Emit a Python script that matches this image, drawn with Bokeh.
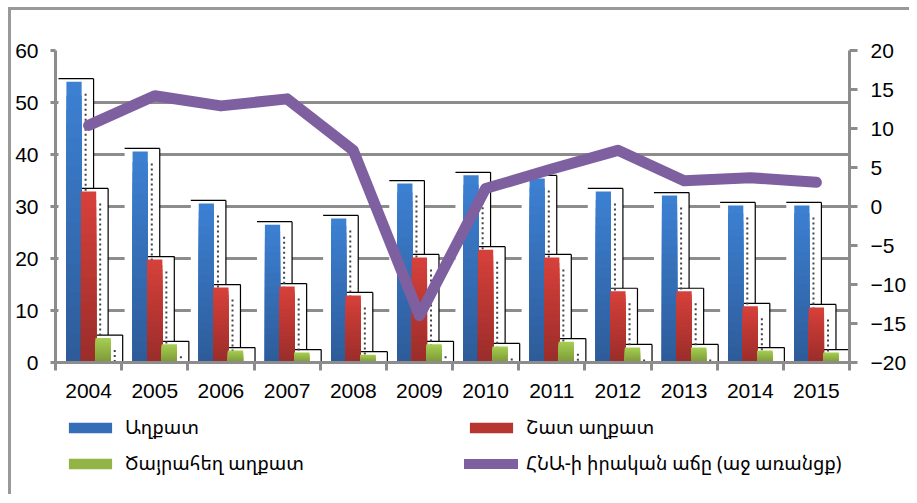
from bokeh.plotting import figure
from bokeh.layouts import column
from bokeh.models import (Range1d, LinearAxis, FixedTicker, Legend, LegendItem,
                          ColumnDataSource)
from bokeh.embed import file_html
from bokeh.resources import INLINE

# ---------------- data ----------------
years = ["2004", "2005", "2006", "2007", "2008", "2009",
         "2010", "2011", "2012", "2013", "2014", "2015"]
poor = [54.0, 40.6, 30.6, 26.5, 27.7, 34.4, 36.0, 35.4, 32.9, 32.1, 30.2, 30.2]
very_poor = [32.9, 19.8, 14.4, 14.6, 12.9, 20.2, 21.7, 20.2, 13.7, 13.7, 10.8, 10.6]
extreme_poor = [4.7, 3.5, 2.3, 1.9, 1.5, 3.5, 3.1, 4.0, 2.9, 2.9, 2.3, 1.9]
gdp_growth = [10.4, 14.2, 12.9, 13.8, 7.2, -14.0, 2.3, 4.8, 7.2, 3.3, 3.7, 3.1]
left_ticks = [0, 10, 20, 30, 40, 50, 60]
right_ticks = [-20, -15, -10, -5, 0, 5, 10, 15, 20]
labels = ["Աղքատ", "Շատ աղքատ", "Ծայրահեղ աղքատ", "ՀՆԱ-ի իրական աճը (աջ առանցք)"]

# ---------------- layout ----------------
W = 898
H1, H2 = 400, 84
FL, FR, FT, FB = 44, 842, 40, 352          # frame edges in canvas px
PX_X = (FR - FL) / 12.0                    # px per category unit
PX_Y = (FB - FT) / 60.0                    # px per left-axis unit

GRAY = "#8c8c8c"
FONT = "Liberation Sans"
LEGEND_FONT = "Noto Sans Armenian, DejaVu Sans"
BLUE = ((60, 128, 210), (46, 92, 154))
RED = ((214, 64, 58), (155, 45, 42))
GREEN = ((166, 205, 82), (124, 154, 55))
PURPLE = "#7e60a0"

p = figure(width=W, height=H1, output_backend="svg", toolbar_location=None,
           x_range=Range1d(0, 12), y_range=Range1d(0, 60),
           min_border_left=FL, min_border_right=W - FR,
           min_border_top=FT, min_border_bottom=H1 - FB,
           background_fill_color="white", border_fill_color="white")
p.outline_line_color = None
p.extra_y_ranges = {"gdp": Range1d(-20, 20)}

centers = [i + 0.5 for i in range(len(years))]

# x axis: ticks at category boundaries, labels at centres
xa = p.xaxis[0]
xa.ticker = FixedTicker(ticks=centers, minor_ticks=list(range(13)))
xa.major_label_overrides = {c: y for c, y in zip(centers, years)}
xa.major_tick_out = 0
xa.major_tick_in = 0
xa.minor_tick_out = 8
xa.minor_tick_in = 0
xa.minor_tick_line_color = GRAY
xa.minor_tick_line_width = 3
xa.axis_line_color = GRAY
xa.axis_line_width = 3
xa.major_label_standoff = 13
xa.major_label_text_font = FONT
xa.major_label_text_font_size = "21px"
xa.major_label_text_color = "black"

ya = p.yaxis[0]
ya.ticker = FixedTicker(ticks=left_ticks, minor_ticks=[])
ya.major_tick_out = 5
ya.major_tick_in = 0
ya.major_tick_line_color = GRAY
ya.major_tick_line_width = 3
ya.axis_line_color = GRAY
ya.axis_line_width = 3
ya.major_label_standoff = 12
ya.major_label_text_font = FONT
ya.major_label_text_font_size = "21px"
ya.major_label_text_color = "black"

ra = LinearAxis(y_range_name="gdp", ticker=FixedTicker(ticks=right_ticks, minor_ticks=[]))
ra.major_tick_out = 8
ra.major_tick_in = 0
ra.major_tick_line_color = GRAY
ra.major_tick_line_width = 3
ra.axis_line_color = GRAY
ra.axis_line_width = 3
ra.major_label_standoff = 13
ra.major_label_text_font = FONT
ra.major_label_text_font_size = "21px"
ra.major_label_text_color = "black"
p.add_layout(ra, "right")

p.xgrid.visible = False
p.ygrid.ticker = FixedTicker(ticks=left_ticks, minor_ticks=[])
p.ygrid.grid_line_color = GRAY
p.ygrid.grid_line_width = 3

# ---------------- bars ----------------
BAR_W = 15.3 / PX_X
series = [
    (poor, -0.22, BLUE),
    (very_poor, 0.0, RED),
    (extreme_poor, 0.22, GREEN),
]

box_l = BAR_W / 2 + 8 / PX_X
box_r = BAR_W / 2 + 12 / PX_X
box_top = 3 / PX_Y

# white "shadow" boxes with black top/right edges (drawn below bars)
for vals, off, _ in series:
    xs = [c + off for c in centers]
    p.quad(left=[x - box_l for x in xs], right=[x + box_r for x in xs],
           top=[v + box_top for v in vals], bottom=0,
           fill_color="white", line_color=None)
    p.segment(x0=[x - box_l for x in xs], x1=[x + box_r for x in xs],
              y0=[v + box_top for v in vals], y1=[v + box_top for v in vals],
              line_color="black", line_width=1.2)
    p.segment(x0=[x + box_r for x in xs], x1=[x + box_r for x in xs],
              y0=[v + box_top for v in vals], y1=0,
              line_color="black", line_width=1.2)

# dotted shadow columns
for vals, off, _ in series:
    xs = [c + off + BAR_W / 2 + 4 / PX_X for c in centers]
    y0 = [max(v - 12 / PX_Y, 0) for v in vals]
    p.segment(x0=xs, x1=xs, y0=y0, y1=0, line_color="#444444",
              line_width=2, line_dash="2 3")


def shade(cs, t):
    ctop, cbot = cs
    return "#%02x%02x%02x" % tuple(int(round(a + (b - a) * t)) for a, b in zip(ctop, cbot))


# gradient bars (layered, lighter on top)
N = 20
for vals, off, cs in series:
    xs, tops, cols = [], [], []
    for k in range(N):
        col = shade(cs, k / (N - 1))
        for c, v in zip(centers, vals):
            xs.append(c + off)
            tops.append(v * (N - k) / N)
            cols.append(col)
    src = ColumnDataSource(dict(x=xs, top=tops, color=cols))
    p.vbar(x="x", top="top", bottom=0, width=BAR_W, source=src,
           fill_color="color", line_color=None)

# ---------------- GDP line ----------------
p.line(x=centers, y=gdp_growth, y_range_name="gdp", line_color=PURPLE,
       line_width=11, line_cap="round", line_join="round")

# ---------------- legend (own strip below the chart) ----------------
q = figure(width=W, height=H2, output_backend="svg", toolbar_location=None,
           x_range=Range1d(0, 1), y_range=Range1d(0, 1),
           x_axis_location=None, y_axis_location=None,
           min_border_left=FL, min_border_right=W - FR, min_border_top=0, min_border_bottom=0,
           background_fill_color="white", border_fill_color="white")
q.grid.visible = False
q.outline_line_color = None
# legend proxies (placed far below the visible range)
rb = q.vbar(x=[0.5], top=[-20], bottom=-21, width=0.1, fill_color=shade(BLUE, 0.5), line_color=None)
rr = q.vbar(x=[0.5], top=[-20], bottom=-21, width=0.1, fill_color=shade(RED, 0.5), line_color=None)
rg = q.vbar(x=[0.5], top=[-20], bottom=-21, width=0.1, fill_color=shade(GREEN, 0.5), line_color=None)
rl = q.line(x=[0.4, 0.6], y=[-20, -20], line_color=PURPLE, line_width=10, line_cap="round")

legend = Legend(items=[
    LegendItem(label=labels[0], renderers=[rb]),
    LegendItem(label=labels[2], renderers=[rg]),
    LegendItem(label=labels[1], renderers=[rr]),
    LegendItem(label=labels[3], renderers=[rl]),
], location=(8, 18), orientation="vertical", nrows=2)
legend.glyph_width = 54
legend.glyph_height = 13
legend.label_height = 13
legend.label_width = 329
legend.label_standoff = 8
legend.spacing = 10
legend.padding = 0
legend.margin = 0
legend.border_line_color = None
legend.background_fill_alpha = 0
legend.label_text_font = LEGEND_FONT
legend.label_text_font_size = "19px"
legend.label_text_color = "black"
q.add_layout(legend, "center")

page = column(p, q, spacing=0, styles={
    "margin-left": "8px", "margin-top": "7px",
    "border-top": "3px solid #999999", "border-left": "3px solid #999999"})

open("out.html", "w").write(file_html(page, INLINE))
